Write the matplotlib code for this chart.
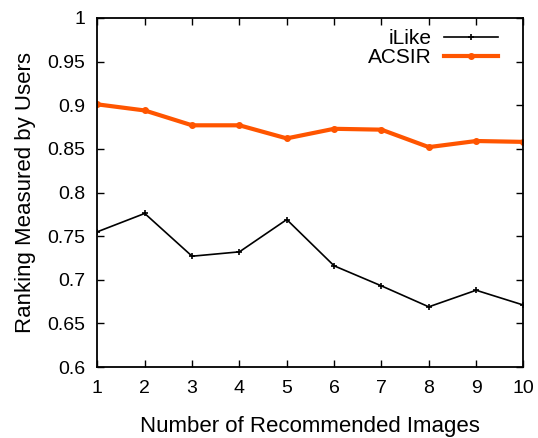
import matplotlib
matplotlib.use('Agg')
import matplotlib.pyplot as plt

plt.rcParams['font.family'] = ['Liberation Sans', 'DejaVu Sans']

# values
n_images = [1, 2, 3, 4, 5, 6, 7, 8, 9, 10]
ilike = [0.755, 0.776, 0.727, 0.732, 0.769, 0.716, 0.693, 0.669, 0.688, 0.671]
acsir = [0.901, 0.894, 0.877, 0.877, 0.862, 0.873, 0.872, 0.852, 0.859, 0.858]
y_ticks = [0.6, 0.65, 0.7, 0.75, 0.8, 0.85, 0.9, 0.95, 1]
y_tick_labels = ['0.6', '0.65', '0.7', '0.75', '0.8', '0.85', '0.9', '0.95', '1']

fig = plt.figure(figsize=(5.38, 4.38), dpi=100)
ax = fig.add_axes([0.181, 0.162, 0.792, 0.797])

ax.plot(n_images, ilike, color='black', lw=1.2, marker='+', ms=5, mew=1.2,
        label='iLike')
ax.plot(n_images, acsir, color='#ff5500', lw=3, marker='o', ms=4,
        label='ACSIR')

ax.set_xlim(1, 10)
ax.set_ylim(0.6, 1)
ax.set_xticks(n_images)
ax.set_yticks(y_ticks)
ax.set_yticklabels(y_tick_labels)
ax.tick_params(direction='in', top=True, right=True, length=5, width=1,
               labelsize=14)
ax.tick_params(axis='x', pad=9)
ax.tick_params(axis='y', pad=9)
for s in ax.spines.values():
    s.set_linewidth(1.3)

ax.set_xlabel('Number of Recommended Images', fontsize=16, labelpad=14)
ax.set_ylabel('Ranking Measured by Users', fontsize=16, labelpad=8)

ax.legend(loc='upper right', bbox_to_anchor=(0.941, 0.967), frameon=False,
          markerfirst=False, fontsize=15, handlelength=2.6, borderpad=0,
          borderaxespad=0, labelspacing=0, handletextpad=0.6)

fig.savefig('out.png', dpi=100)
